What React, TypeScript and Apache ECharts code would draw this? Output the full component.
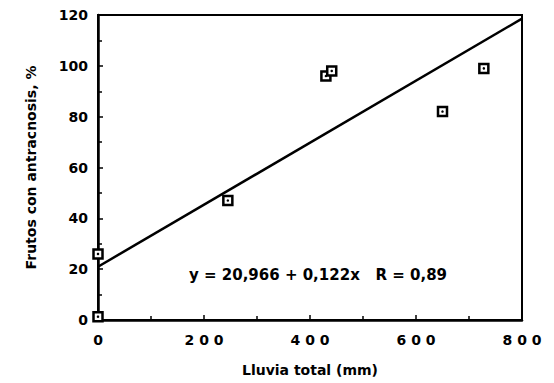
import React, { useEffect, useRef } from "react";
import * as echarts from "echarts";

const rainfall = [0, 0, 245, 430, 441, 650, 728];
const anthracnose = [1.3, 26, 47, 96, 98, 82, 99];
const intercept = 20.966;
const slope = 0.122;
const xRange = [0, 800];
const yRange = [0, 120];
const equationLabel = "y = 20,966 + 0,122x   R = 0,89";
const xTitle = "Lluvia total (mm)";
const yTitle = "Frutos con antracnosis, %";

const FONT = "'DejaVu Sans', 'Liberation Sans', Arial, sans-serif";

export default function App() {
  const ref = useRef<HTMLDivElement>(null);
  useEffect(() => {
    if (!ref.current) return;
    const chart = echarts.init(ref.current, null, { renderer: "svg" });
    const points = rainfall.map((x, i) => [x, anthracnose[i]]);
    const fit = xRange.map((x) => [x, intercept + slope * x]);
    chart.setOption({
      animation: false,
      backgroundColor: "#fff",
      grid: {
        left: 98,
        top: 15,
        right: 32,
        bottom: 63,
        show: true,
        borderColor: "#000",
        borderWidth: 2,
      },
      xAxis: {
        type: "value",
        min: xRange[0],
        max: xRange[1],
        interval: 200,
        axisLine: { show: true, lineStyle: { color: "#000", width: 2.5 } },
        axisTick: { show: true, inside: true, length: 5, lineStyle: { color: "#000", width: 1.5 } },
        minorTick: { show: true, splitNumber: 2, length: 4, lineStyle: { color: "#000", width: 1.5 } },
        splitLine: { show: false },
        axisLabel: {
          color: "#000",
          fontFamily: FONT,
          fontWeight: "bold",
          fontSize: 14,
          margin: 13,
          formatter: (v: number) => String(v).split("").join(" "),
        },
        name: xTitle,
        nameLocation: "middle",
        nameGap: 43,
        nameTextStyle: { color: "#000", fontFamily: FONT, fontWeight: "bold", fontSize: 14 },
      },
      yAxis: {
        type: "value",
        min: yRange[0],
        max: yRange[1],
        interval: 20,
        axisLine: { show: true, lineStyle: { color: "#000", width: 2.5 } },
        axisTick: { show: true, inside: true, length: 5, lineStyle: { color: "#000", width: 1.5 } },
        minorTick: { show: true, splitNumber: 2, length: 4, lineStyle: { color: "#000", width: 1.5 } },
        splitLine: { show: false },
        axisLabel: {
          color: "#000",
          fontFamily: FONT,
          fontWeight: "bold",
          fontSize: 14,
          margin: 10,
        },
        name: yTitle,
        nameLocation: "middle",
        nameGap: 60,
        nameTextStyle: { color: "#000", fontFamily: FONT, fontWeight: "bold", fontSize: 14 },
      },
      series: [
        {
          type: "line",
          data: fit,
          symbol: "none",
          lineStyle: { color: "#000", width: 2.5 },
          z: 2,
        },
        {
          type: "scatter",
          data: points,
          symbol: "rect",
          symbolSize: 9,
          itemStyle: { color: "#fff", borderColor: "#000", borderWidth: 2.5, opacity: 1 },
          z: 3,
        },
        {
          type: "scatter",
          data: points,
          symbol: "circle",
          symbolSize: 2.5,
          itemStyle: { color: "#000", opacity: 1 },
          z: 4,
        },
      ],
      graphic: [
        {
          type: "text",
          left: 189,
          top: 267,
          style: {
            text: equationLabel,
            fill: "#000",
            font: `bold 15px ${FONT}`,
          },
        },
      ],
    });
    return () => chart.dispose();
  }, []);
  return <div ref={ref} style={{ width: 554, height: 383, position: "absolute", left: 0, top: 0 }} />;
}
